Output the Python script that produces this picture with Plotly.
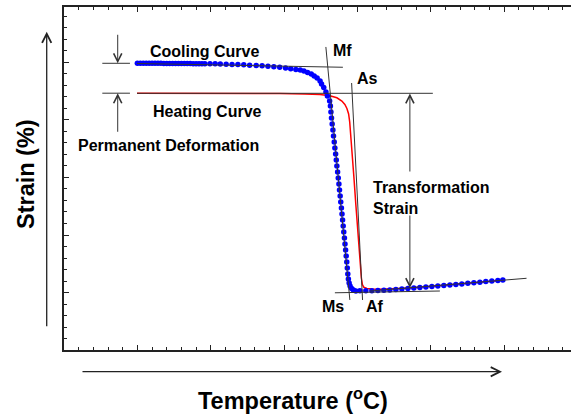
import plotly.graph_objects as go

# cooling curve (blue dots) - temperature / strain in axis units
cool_t = [10.0, 10.4, 10.8, 11.2, 11.6, 12.0, 12.4, 12.8, 13.2, 13.6, 14.0, 14.4,
          14.8, 15.2, 15.6, 16.0, 16.4, 16.8, 17.2, 17.6, 18.0, 18.4, 18.8, 19.2,
          19.9, 20.6, 21.3, 22.1, 22.9, 23.7, 24.5, 25.3, 26.2, 27.0, 27.8, 28.6,
          29.4, 30.2, 30.9, 31.6, 32.2, 32.7, 33.2, 33.7, 34.1, 34.5, 34.9, 35.1,
          35.4, 35.7, 35.9, 36.2,
          36.31, 36.38, 36.46, 36.55, 36.65, 36.73, 36.83, 36.92, 37.02, 37.11,
          37.19, 37.29, 37.38, 37.47, 37.55, 37.64, 37.72, 37.81, 37.89, 37.97,
          38.05, 38.13, 38.22, 38.30, 38.38, 38.46, 38.54, 38.61, 38.68, 38.76,
          38.86, 38.99, 39.20, 39.44, 39.78,
          40.33, 41.14, 41.96, 42.78, 43.6, 44.41, 45.23, 46.05, 46.87, 47.68,
          48.5, 49.32, 50.14, 50.95, 51.77, 52.59, 53.41, 54.22, 55.04, 55.86,
          56.68, 57.49, 58.31, 59.13, 59.81]
cool_s = [49.88, 49.87, 49.87, 49.86, 49.86, 49.86, 49.85, 49.85, 49.85, 49.84, 49.84, 49.84,
          49.83, 49.83, 49.82, 49.82, 49.82, 49.81, 49.81, 49.80, 49.80, 49.80, 49.79, 49.79,
          49.78, 49.76, 49.74, 49.71, 49.67, 49.63, 49.59, 49.54, 49.49, 49.43, 49.36, 49.28,
          49.18, 49.06, 48.92, 48.78, 48.68, 48.52, 48.28, 48.0, 47.65, 47.3, 46.78, 46.26,
          45.65, 44.87, 44.17, 43.3,
          42.43, 41.39, 40.35, 39.30, 38.26, 37.22, 36.17, 35.13, 34.09, 33.04,
          32.0, 30.96, 29.91, 28.87, 27.83, 26.78, 25.74, 24.70, 23.65, 22.61,
          21.57, 20.52, 19.48, 18.43, 17.39, 16.35, 15.30, 14.26, 13.22, 12.35,
          11.65, 11.13, 10.70, 10.43, 10.26,
          10.30, 10.30, 10.31, 10.35, 10.40, 10.45, 10.52, 10.61, 10.68, 10.78,
          10.87, 10.96, 11.04, 11.13, 11.22, 11.30, 11.39, 11.48, 11.60, 11.70,
          11.79, 11.90, 11.98, 12.09, 12.17]

# heating curve (red line)
heat_t = [9.95, 15.8, 22.62, 29.43, 32.83, 34.88, 36.24, 37.19, 37.87, 38.28,
          38.56, 38.79, 38.94, 39.07, 39.21, 39.35, 39.51, 39.78, 40.05, 40.33,
          40.53, 40.67, 40.87, 41.28, 41.96, 43.05, 45.1, 47.14, 49.86, 52.59,
          55.31, 58.04, 59.81]
heat_s = [44.63, 44.64, 44.64, 44.59, 44.52, 44.42, 44.21, 43.86, 43.3, 42.7,
          42.0, 41.04, 39.65, 37.74, 35.48, 33.04, 30.09, 25.22, 20.35, 16.0,
          12.52, 11.39, 10.9, 10.7, 10.59, 10.56, 10.61, 10.78, 11.04, 11.34,
          11.65, 11.97, 12.14]

# construction lines: (t0, s0, t1, s1)
guide_lines = [
    (9.95, 49.83, 38.01, 49.17),    # cooling plateau
    (5.22, 49.86, 8.99, 49.86),     # permanent deformation marks
    (5.22, 44.66, 8.99, 44.66),
    (9.95, 44.64, 50.27, 44.64),    # heating plateau
    (35.69, 52.70, 38.96, 8.70),    # Mf - Ms
    (39.20, 46.43, 40.69, 8.70),    # As - Af
    (36.92, 9.95, 51.23, 10.26),    # bottom
    (41.69, 10.26, 63.04, 12.47),   # austenite slope
]

# dimension arrows: (head t, head s, tail t, tail s)
dim_arrows = [
    (7.32, 49.86, 7.32, 55.08),
    (7.32, 44.64, 7.32, 37.69),
    (47.14, 44.61, 47.14, 30.78),
    (47.14, 10.78, 47.14, 23.65),
]

# labels: (text, t, s)
labels = [
    ("Cooling Curve", 19.21, 51.83),
    ("Heating Curve", 19.52, 41.45),
    ("Permanent Deformation", 14.24, 35.65),
    ("Mf", 38.01, 52.09),
    ("As", 41.39, 47.25),
    ("Transformation<br>Strain", 50.0, 26.52),
    ("Ms", 36.69, 7.6),
    ("Af", 42.37, 7.6),
]

FONT = "Arial, Liberation Sans, sans-serif"

fig = go.Figure()

fig.add_trace(go.Scatter(x=heat_t, y=heat_s, mode="lines",
                         line=dict(color="#ff0000", width=1.5),
                         showlegend=False, hoverinfo="skip"))
fig.add_trace(go.Scatter(x=cool_t, y=cool_s, mode="markers",
                         marker=dict(color="#0000ff", size=5.5, line_width=0),
                         showlegend=False, hoverinfo="skip"))

for t0, s0, t1, s1 in guide_lines:
    fig.add_shape(type="line", x0=t0, y0=s0, x1=t1, y1=s1,
                  line=dict(color="#333333", width=1))

for ht, hs, tt, ts in dim_arrows:
    fig.add_annotation(x=ht, y=hs, ax=tt, ay=ts, xref="x", yref="y",
                       axref="x", ayref="y", text="", showarrow=True,
                       arrowhead=5, arrowsize=1.6, arrowwidth=1,
                       arrowcolor="#333333", standoff=0, startstandoff=0)

for txt, t, s in labels:
    fig.add_annotation(x=t, y=s, xref="x", yref="y", text=f"<b>{txt}</b>",
                       showarrow=False, align="left",
                       font=dict(family=FONT, size=16, color="black"))

# axis direction arrows, outside the frame
fig.add_annotation(x=0.8639, y=-0.0633, xref="paper", yref="paper",
                   ax=-421, ay=0, text="", showarrow=True, arrowhead=5,
                   arrowsize=1.4, arrowwidth=1.3, arrowcolor="#222222")
fig.add_annotation(x=-0.0341, y=0.928, xref="paper", yref="paper",
                   ax=0, ay=296, text="", showarrow=True, arrowhead=5,
                   arrowsize=1.4, arrowwidth=1.3, arrowcolor="#222222")

fig.add_annotation(x=0.4507, y=-0.143, xref="paper", yref="paper",
                   xanchor="center", yanchor="middle",
                   text="<b>Temperature (<sup>o</sup>C)</b>", showarrow=False,
                   font=dict(family=FONT, size=23.5, color="black"))
fig.add_annotation(x=-0.075, y=0.513, xref="paper", yref="paper",
                   xanchor="center", yanchor="middle",
                   text="<b>Strain (%)</b>", showarrow=False, textangle=-90,
                   font=dict(family=FONT, size=23.5, color="black"))

fig.update_xaxes(range=[0, 69.1], showgrid=False, zeroline=False,
                 showticklabels=False, showline=True, linecolor="#222222",
                 linewidth=1.5, mirror="ticks", ticks="inside", ticklen=5,
                 tickwidth=1, tickcolor="#222222", tick0=0, dtick=10,
                 minor=dict(ticks="inside", ticklen=3, dtick=2,
                            tickcolor="#222222", showgrid=False))
fig.update_yaxes(range=[0, 59.65], showgrid=False, zeroline=False,
                 showticklabels=False, showline=True, linecolor="#222222",
                 linewidth=1.5, mirror=False, ticks="inside", ticklen=5,
                 tickwidth=1, tickcolor="#222222", tick0=0, dtick=10,
                 minor=dict(ticks="inside", ticklen=3, dtick=2,
                            tickcolor="#222222", showgrid=False))

fig.update_layout(width=571, height=419,
                  margin=dict(l=64, r=0, t=7, b=69),
                  paper_bgcolor="white", plot_bgcolor="white")

fig.write_html("out.html", config={"displayModeBar": False},
               post_script="document.body.style.margin='0';")
